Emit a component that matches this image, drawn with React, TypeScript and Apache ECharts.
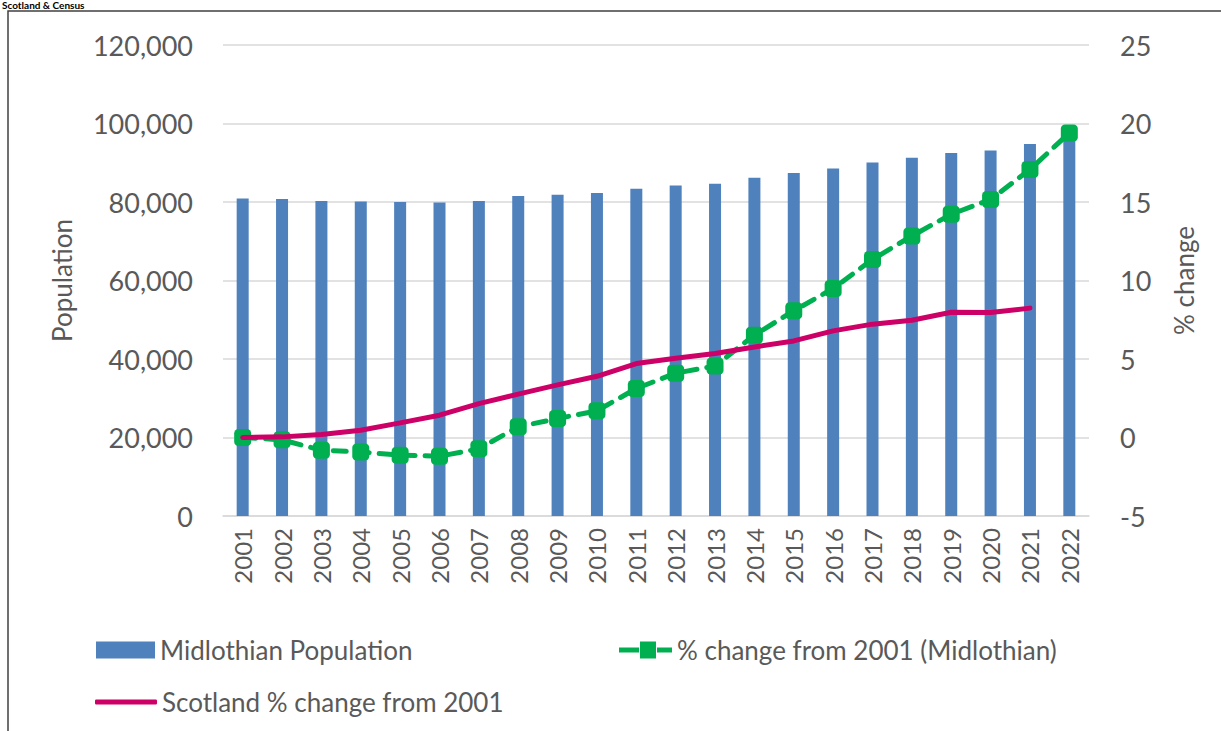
import React, { useEffect, useRef } from "react";
import * as echarts from "echarts";

const years = ["2001","2002","2003","2004","2005","2006","2007","2008","2009","2010","2011","2012","2013","2014","2015","2016","2017","2018","2019","2020","2021","2022"];
const population = [80900,80760,80250,80150,80000,79900,80250,81530,81860,82290,83390,84230,84660,86190,87390,88560,90090,91290,92480,93150,94780,96600];
const midlothianPct = [0,-0.15,-0.81,-0.92,-1.13,-1.19,-0.72,0.68,1.21,1.70,3.12,4.1,4.55,6.52,8.07,9.49,11.34,12.84,14.22,15.16,17.07,19.4];
const scotlandPct = [0,0.04,0.19,0.46,0.93,1.42,2.16,2.76,3.35,3.90,4.71,5.05,5.35,5.77,6.15,6.79,7.22,7.47,7.98,7.96,8.24,null];

const FONT = "Lato";
const GREY = "#595959";

export default function App() {
  const ref = useRef<HTMLDivElement>(null);
  useEffect(() => {
    document.body.style.margin = "0";
    const chart = echarts.init(ref.current!, null, { renderer: "svg" });
    chart.setOption({
      animation: false,
      backgroundColor: "#ffffff",
      textStyle: { fontFamily: FONT },
      graphic: [
        { type: "rect", shape: { x: 8, y: 11, width: 1300, height: 900 }, style: { fill: "none", stroke: "#404040", lineWidth: 1.5 }, silent: true },
        { type: "text", x: 2, y: 0, style: { text: "Scotland & Census", font: "bold 10px Lato", fill: "#000" } },
      ],
      grid: { left: 223, right: 132, top: 45, bottom: 215, containLabel: false },
      legend: [
        { data: ["Midlothian Population"], left: 96, top: 637, padding: 0, icon: "rect", itemWidth: 59, itemHeight: 17, itemGap: 8, textStyle: { fontSize: 26, color: GREY, fontFamily: FONT } },
        { data: ["% change from 2001 (Midlothian)"], left: 619, top: 637, padding: 0, icon: "path://M0,6 h20 v5 h-20 z M21,0 h16 v17 h-16 z M38,6 h15 v5 h-15 z", itemWidth: 53, itemHeight: 17, itemGap: 9, textStyle: { fontSize: 26, color: GREY, fontFamily: FONT } },
        { data: ["Scotland % change from 2001"], left: 95, top: 689, padding: 0, icon: "roundRect", itemWidth: 62, itemHeight: 5, itemGap: 8, textStyle: { fontSize: 26, color: GREY, fontFamily: FONT } },
      ],
      xAxis: {
        type: "category",
        data: years,
        axisLine: { lineStyle: { color: "#D9D9D9", width: 1.5 } },
        axisTick: { show: false },
        axisLabel: { rotate: 90, fontSize: 24, color: GREY, margin: 12, fontFamily: FONT },
      },
      yAxis: [
        {
          type: "value", min: 0, max: 120000, interval: 20000,
          name: "Population", nameLocation: "middle", nameRotate: 90, nameGap: 148,
          nameTextStyle: { fontSize: 26, color: GREY, fontFamily: FONT },
          axisLabel: { fontSize: 27, color: GREY, margin: 30, fontFamily: FONT, formatter: (v: number) => v.toLocaleString("en-US") },
          axisLine: { show: false }, axisTick: { show: false },
          splitLine: { lineStyle: { color: "#D9D9D9", width: 1.5 } },
        },
        {
          type: "value", min: -5, max: 25, interval: 5, position: "right",
          name: "% change", nameLocation: "middle", nameRotate: 90, nameGap: 82,
          nameTextStyle: { fontSize: 26, color: GREY, fontFamily: FONT },
          axisLabel: { fontSize: 27, color: GREY, margin: 31, fontFamily: FONT },
          axisLine: { show: false }, axisTick: { show: false }, splitLine: { show: false },
        },
      ],
      series: [
        {
          name: "Midlothian Population", type: "bar", data: population, yAxisIndex: 0,
          barWidth: 12, itemStyle: { color: "#4F81BD" }, z: 1,
        },
        {
          name: "% change from 2001 (Midlothian)", type: "line", data: midlothianPct, yAxisIndex: 1,
          symbol: "roundRect", symbolSize: 17, showAllSymbol: true,
          lineStyle: { color: "#00B050", width: 5, type: [13, 10], cap: "round" },
          itemStyle: { color: "#00B050" }, z: 3,
        },
        {
          name: "Scotland % change from 2001", type: "line", data: scotlandPct, yAxisIndex: 1,
          symbol: "none", lineStyle: { color: "#CC0066", width: 5, cap: "round" },
          itemStyle: { color: "#CC0066" }, z: 4,
        },
      ],
    });
    return () => chart.dispose();
  }, []);
  return <div ref={ref} style={{ position: "fixed", left: 0, top: 0, width: 1221, height: 731 }} />;
}
